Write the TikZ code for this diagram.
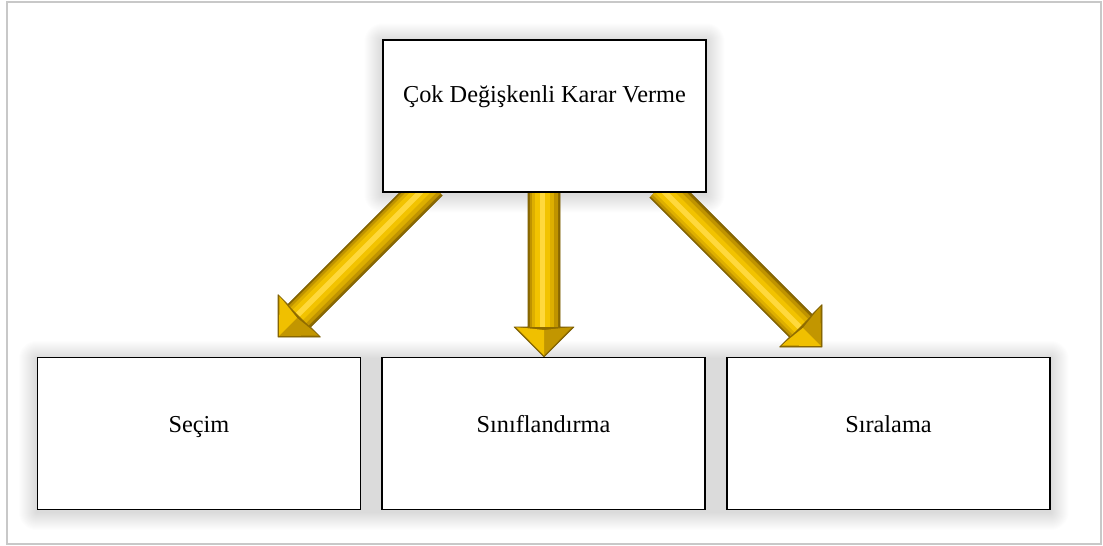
\documentclass[tikz,border=0pt]{standalone}
\usepackage{fontspec}
\setmainfont{Liberation Serif}
\usetikzlibrary{calc}
\definecolor{framegray}{HTML}{C8C8C8}
\definecolor{gEdge}{HTML}{8F6C00}
\definecolor{gOne}{HTML}{BF9300}
\definecolor{gTwo}{HTML}{DDAF00}
\definecolor{gThree}{HTML}{F2C300}
\definecolor{gFour}{HTML}{FFD93C}
\definecolor{gHeadA}{HTML}{C29600}
\definecolor{gHeadB}{HTML}{F0C000}
\definecolor{gLine}{HTML}{7A5C00}
\pgfdeclarelayer{bg}
\pgfsetlayers{bg,main}
\newcommand\goldarrow[2]{%
  \coordinate (hb) at ($(#2)!30pt!(#1)$);
  \fill[gEdge] ($(#1)!16pt!90:(#2)$) -- ($(hb)!16pt!90:(#2)$) -- ($(hb)!30pt!90:(#2)$) -- (#2)
     -- ($(hb)!30pt!-90:(#2)$) -- ($(hb)!16pt!-90:(#2)$) -- ($(#1)!16pt!-90:(#2)$) -- cycle;
  \foreach \a/\b/\c in {13.5/14.5/gOne, 10/12/gTwo, 5.5/9/gThree, 1/4.5/gFour}{
    \fill[\c] ($(#1)!\a pt!90:(#2)$) -- ($(hb)!\a pt!90:(#2)$) -- ($(hb)!\b pt!-90:(#2)$) -- ($(#1)!\b pt!-90:(#2)$) -- cycle;
  }
  \fill[gHeadA] ($(hb)!28pt!90:(#2)$) -- ($(#2)!1.5pt!(hb)$) -- ($(hb)!3pt!(#2)$) -- cycle;
  \fill[gHeadB] ($(hb)!28pt!-90:(#2)$) -- ($(#2)!1.5pt!(hb)$) -- ($(hb)!3pt!(#2)$) -- cycle;
  \draw[gLine, line width=0.6pt, line join=round] ($(#1)!16pt!90:(#2)$) -- ($(hb)!16pt!90:(#2)$) -- ($(hb)!30pt!90:(#2)$) -- (#2)
     -- ($(hb)!30pt!-90:(#2)$) -- ($(hb)!16pt!-90:(#2)$) -- ($(#1)!16pt!-90:(#2)$);
}
\begin{document}
\begin{tikzpicture}[x=1pt,y=-1pt,
  box/.style={draw=black, line width=1.2pt, fill=white, minimum width=323pt, minimum height=152pt,
              inner sep=0pt, font=\fontsize{24.3pt}{29pt}\selectfont, text height=17pt}]
\useasboundingbox (0,0) rectangle (1103,546);

\node[box, text depth=44pt] (top) at (544.5,116) {Çok Değişkenli Karar Verme};
\node[box, text depth=20pt] (b1) at (199,433.5) {Seçim};
\node[box, text depth=20pt] (b2) at (543.5,433.5) {Sınıflandırma};
\node[box, text depth=20pt] (b3) at (888.5,433.5) {Sıralama};

\coordinate (s1) at (431,184);
\coordinate (t1) at (278,337);
\coordinate (s2) at (544,185);
\coordinate (t2) at (544,357);
\coordinate (s3) at (661,186);
\coordinate (t3) at (822,347);

\begin{pgfonlayer}{bg}
  \fill[white] (0,0) rectangle (1103,546);
  \draw[framegray, line width=2pt] (7,1.5) rectangle (1101,544);
  \foreach \i in {1,...,18}{
    \fill[black, opacity=0.0095, rounded corners=\i pt] ($(top.north west)+(-\i,-\i+2)$) rectangle ($(top.south east)+(\i,\i+2)$);
    \fill[black, opacity=0.0095, rounded corners=\i pt] ($(b1.north west)+(-\i,-\i+2)$) rectangle ($(b3.south east)+(\i,\i+2)$);
  }
  \goldarrow{s1}{t1}
  \goldarrow{s2}{t2}
  \goldarrow{s3}{t3}
\end{pgfonlayer}
\end{tikzpicture}
\end{document}
